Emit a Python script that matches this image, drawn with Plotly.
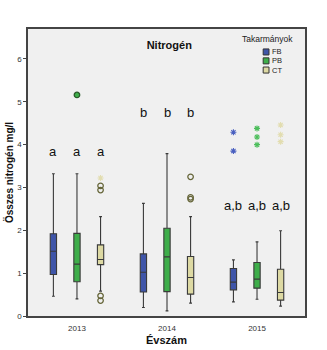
import plotly.graph_objects as go

years = ["2013", "2014", "2015"]
groups = ["FB", "PB", "CT"]
colors = {"FB": "#3F55A8", "PB": "#3EAE4A", "CT": "#DDD9A3"}
star_colors = {"FB": "#4A60C0", "PB": "#4DBE5C", "CT": "#E2DDB0"}

# box statistics per group, one value per year
q1 = {"FB": [0.97, 0.56, 0.61], "PB": [0.80, 0.57, 0.65], "CT": [1.20, 0.51, 0.37]}
med = {"FB": [1.51, 1.02, 0.79], "PB": [1.21, 1.38, 0.86], "CT": [1.32, 0.90, 0.55]}
q3 = {"FB": [1.92, 1.45, 1.11], "PB": [1.93, 2.05, 1.25], "CT": [1.66, 1.39, 1.09]}
lo = {"FB": [0.46, 0.20, 0.33], "PB": [0.40, 0.12, 0.39], "CT": [0.58, 0.30, 0.23]}
hi = {"FB": [3.32, 2.63, 1.31], "PB": [3.32, 3.79, 1.73], "CT": [2.32, 2.32, 1.99]}

# outliers (circles) and extremes (stars): (year index, value)
outliers = {"FB": [], "PB": [(0, 5.16)], "CT": [(0, 3.04), (0, 2.94), (0, 0.47), (0, 0.36),
                                             (1, 3.25), (1, 2.77), (1, 2.73)]}
extremes = {"FB": [(2, 4.29), (2, 3.85)], "PB": [(2, 4.38), (2, 4.18), (2, 4.00)],
            "CT": [(0, 3.22), (2, 4.46), (2, 4.23), (2, 4.07)]}

letters = ["a", "b", "a,b"]
letter_y = [3.83, 4.74, 2.57]

offsets = {"FB": -0.262, "PB": 0.0, "CT": 0.262}
bw = 0.07
FONT = "Liberation Sans, Arial"

fig = go.Figure()
for g in groups:
    xs = [i + offsets[g] for i in range(len(years))]
    fig.add_trace(go.Box(
        x=xs, q1=q1[g], median=med[g], q3=q3[g], lowerfence=lo[g], upperfence=hi[g],
        fillcolor=colors[g], line=dict(color="#3a3a3a", width=1.1), width=bw,
        whiskerwidth=0.45, showlegend=False, hoverinfo="skip", boxpoints=False))
    if outliers[g]:
        fig.add_trace(go.Scatter(
            x=[i + offsets[g] for i, v in outliers[g]], y=[v for i, v in outliers[g]],
            mode="markers", showlegend=False, hoverinfo="skip",
            marker=dict(symbol="circle", size=5.5,
                        color=colors[g] if g != "CT" else "rgba(0,0,0,0)",
                        line=dict(color="#66663a" if g == "CT" else "#2a5a2a", width=1.3))))
    if extremes[g]:
        fig.add_trace(go.Scatter(
            x=[i + offsets[g] for i, v in extremes[g]], y=[v for i, v in extremes[g]],
            mode="markers", showlegend=False, hoverinfo="skip",
            marker=dict(symbol="asterisk-open", size=5, color=star_colors[g],
                        line=dict(color=star_colors[g], width=1.1))))

for i, y in enumerate(years):
    for g in groups:
        fig.add_annotation(x=i + offsets[g], y=letter_y[i], text=letters[i], showarrow=False,
                           font=dict(size=13, color="#111111", family=FONT))

# legend drawn with shapes/annotations (compact, as in the reference)
fig.add_annotation(xref="paper", yref="paper", x=0.866, y=0.965, text="Takarmányok",
                   showarrow=False, xanchor="center", yanchor="middle",
                   font=dict(size=8.5, color="#222222", family=FONT))
leg_y = [0.920, 0.889, 0.857]
for g, yy in zip(groups, leg_y):
    fig.add_shape(type="rect", xref="paper", yref="paper", x0=0.849, x1=0.870,
                  y0=yy - 0.0105, y1=yy + 0.0105, fillcolor=colors[g],
                  line=dict(color="#333333", width=1))
    fig.add_annotation(xref="paper", yref="paper", x=0.874, y=yy, text=g, showarrow=False,
                       xanchor="left", yanchor="middle",
                       font=dict(size=7.5, color="#222222", family=FONT))

fig.update_layout(
    width=327, height=350,
    margin=dict(l=28, r=22, t=29, b=34),
    paper_bgcolor="white", plot_bgcolor="#F0F0F0",
    font=dict(family=FONT, color="#222222"),
    showlegend=False,
    title=dict(text="<b>Nitrogén</b>", xref="paper", x=0.51, xanchor="center",
               yref="paper", y=0.945, yanchor="middle",
               font=dict(size=11, color="#111111")),
    xaxis=dict(range=[-0.544, 2.533], tickvals=[0, 1, 2], ticktext=years, showgrid=False,
               zeroline=False, showline=True, linecolor="#444444", linewidth=1.5, mirror=True,
               ticks="outside", ticklen=4, tickcolor="rgba(0,0,0,0)", automargin=False,
               tickfont=dict(size=8, color="#333333"),
               title=dict(text="<b>Évszám</b>", font=dict(size=11, color="#111111"), standoff=4)),
    yaxis=dict(range=[0, 6.7], tickvals=[0, 1, 2, 3, 4, 5, 6], showgrid=False, zeroline=False,
               showline=True, linecolor="#444444", linewidth=1.5, mirror=True, automargin=False,
               ticks="outside", ticklen=3, tickcolor="#444444",
               tickfont=dict(size=8, color="#333333"),
               title=dict(text="<b>Összes nitrogén mg/l</b>", font=dict(size=10, color="#111111"),
                          standoff=2)),
)

fig.write_html("out.html")
